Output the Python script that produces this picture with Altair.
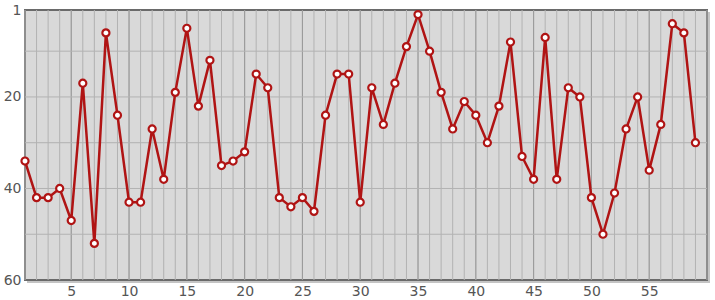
import altair as alt
import pandas as pd
import numpy as np

x_vals = list(range(1, 60))
y_vals = [34, 42, 42, 40, 47, 17, 52, 6, 24, 43,
          43, 27, 38, 19, 5, 22, 12, 35, 34, 32,
          15, 18, 42, 44, 42, 45, 24, 15, 15, 43,
          18, 26, 17, 9, 2, 10, 19, 27, 21, 24,
          30, 22, 8, 33, 38, 7, 38, 18, 20, 42,
          50, 41, 27, 20, 36, 26, 4, 6, 30]
x_ticks = [5, 10, 15, 20, 25, 30, 35, 40, 45, 50, 55]
y_ticks = [1, 20, 40, 60]
minor_x = list(range(1, 61))
h_grid = [10, 20, 30, 40, 50]

df = pd.DataFrame({"x": x_vals, "y": y_vals})
W, H = 682, 270

xs = alt.Scale(domain=[1, 60], nice=False, zero=False)
ys = alt.Scale(domain=[1, 60], nice=False, zero=False, reverse=True)

minor = alt.Chart(pd.DataFrame({"x": minor_x})).mark_rule(color="#b2b2b2", strokeWidth=1).encode(
    x=alt.X("x:Q", scale=xs, axis=alt.Axis(values=x_ticks, grid=False, ticks=False, domain=False,
                                             labelFont="DejaVu Sans", labelFontSize=14, labelColor="#555555",
                                             labelPadding=4, title=None))
)
major = alt.Chart(pd.DataFrame({"x": x_ticks})).mark_rule(color="#999999", strokeWidth=1).encode(
    x=alt.X("x:Q", scale=xs)
)
hgrid = alt.Chart(pd.DataFrame({"y": h_grid})).mark_rule(color="#b2b2b2", strokeWidth=1).encode(
    y=alt.Y("y:Q", scale=ys, axis=alt.Axis(values=y_ticks, grid=False, ticks=False, domain=False,
                                             labelFont="DejaVu Sans", labelFontSize=14, labelColor="#555555",
                                             labelPadding=4, title=None))
)

line = alt.Chart(df).mark_line(color="#b01414", strokeWidth=2.5).encode(
    x=alt.X("x:Q", scale=xs), y=alt.Y("y:Q", scale=ys)
)
pts = alt.Chart(df).mark_point(shape="circle", filled=True, fill="white", stroke="#b01414",
                               strokeWidth=2.2, size=50, opacity=1).encode(
    x=alt.X("x:Q", scale=xs), y=alt.Y("y:Q", scale=ys)
)

shadow_r = alt.Chart(df).mark_rule(color="#c4c4c4", strokeWidth=2).encode(
    x=alt.value(W + 2), y=alt.value(2), y2=alt.value(H + 2)
)
shadow_b = alt.Chart(df).mark_rule(color="#c4c4c4", strokeWidth=2).encode(
    x=alt.value(2), x2=alt.value(W + 3), y=alt.value(H + 2)
)

chart = alt.layer(minor, major, hgrid, line, pts, shadow_r, shadow_b).properties(
    width=W, height=H,
    padding={"left": 25, "top": 10, "right": 8, "bottom": 20},
    autosize=alt.AutoSizeParams(type="none"),
    background="white",
).configure_view(
    fill="#d9d9d9", stroke="#6a6a6a", strokeWidth=2
)

chart.save("out.html", embed_options={"renderer": "svg", "actions": False})
